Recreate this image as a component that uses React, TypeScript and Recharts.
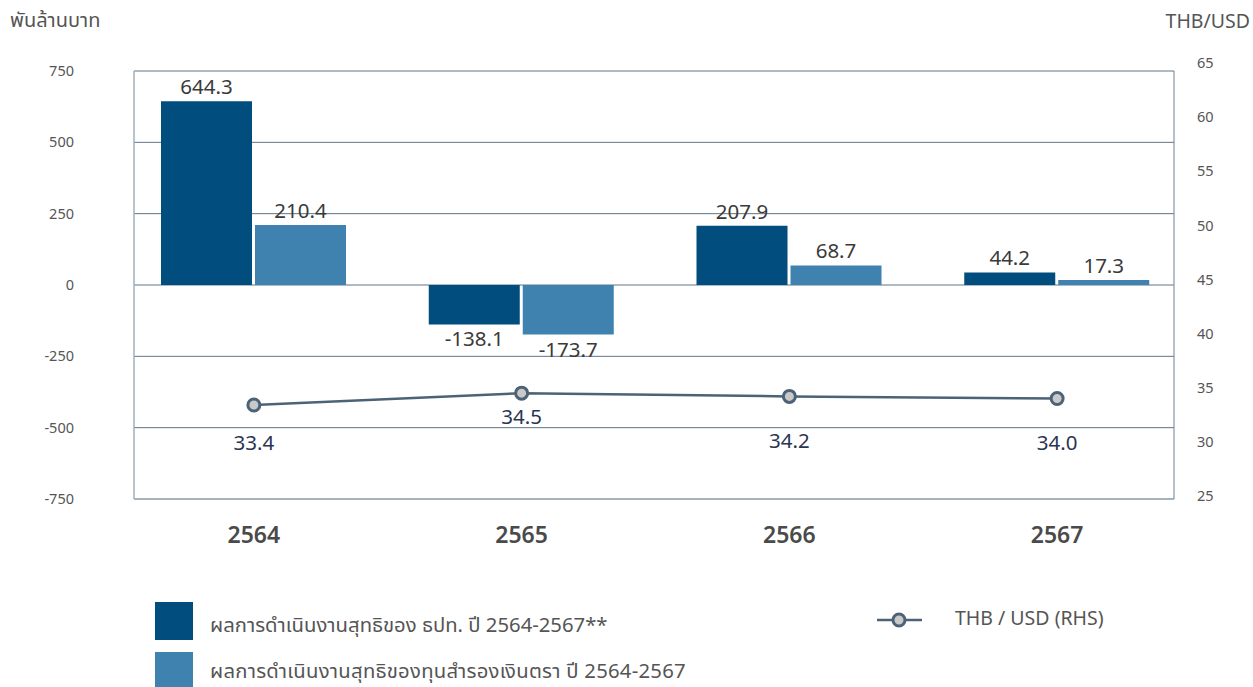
import { ComposedChart, Bar, Line, XAxis, YAxis, CartesianGrid, LabelList } from 'recharts'

// fiscal years (Thai calendar)
const years = ['2564', '2565', '2566', '2567']
// net results, billion baht
const bankResult = [644.3, -138.1, 207.9, 44.2]
const reserveResult = [210.4, -173.7, 68.7, 17.3]
// exchange rate, right axis
const thbUsd = [33.4, 34.5, 34.2, 34.0]

const leftTicks = [-750, -500, -250, 0, 250, 500, 750]
const rightTicks = [25, 30, 35, 40, 45, 50, 55, 60, 65]

const bankName = 'ผลการดำเนินงานสุทธิของ ธปท. ปี 2564-2567**'
const reserveName = 'ผลการดำเนินงานสุทธิของทุนสำรองเงินตรา ปี 2564-2567'
const fxName = 'THB / USD (RHS)'

const DARK = '#014d7d'
const LIGHT = '#3f82b0'
const LINE = '#4b6277'
const FONT = '"Noto Sans Thai", "Noto Sans", "DejaVu Sans", sans-serif'

const data = years.map((year, i) => ({
  year,
  bank: bankResult[i],
  reserve: reserveResult[i],
  fx: thbUsd[i],
}))

function BarValueLabel(props: any) {
  const { x, y, width, height, value } = props
  const top = Math.min(y, y + height)
  const bottom = Math.max(y, y + height)
  const ty = value >= 0 ? top - 7 : bottom + 22
  return (
    <text x={x + width / 2} y={ty} textAnchor="middle" fill="#3a3a3a" fontSize={20.5}>
      {Number(value).toFixed(1)}
    </text>
  )
}

// fx labels sit below the points, not all at the same distance
const fxLabelDy = [45, 31, 52, 51]

function FxLabel(props: any) {
  const { x, y, value, index } = props
  return (
    <text x={x} y={y + fxLabelDy[index]} textAnchor="middle" fill="#2b3551" fontSize={20.5}>
      {Number(value).toFixed(1)}
    </text>
  )
}

export default function App() {
  return (
    <div style={{ position: 'fixed', left: 0, top: 0, width: 1253, height: 687, background: '#fff', fontFamily: FONT, overflow: 'hidden' }}>
      <div style={{ position: 'absolute', left: 10, top: 6, fontSize: 20, color: '#555' }}>พันล้านบาท</div>
      <div style={{ position: 'absolute', right: 3, top: 7, fontSize: 19.5, color: '#555' }}>THB/USD</div>

      <ComposedChart
        width={1253}
        height={560}
        data={data}
        margin={{ top: 71, right: 0, bottom: 0, left: 0 }}
        barSize={91}
        barGap={3}
      >
        <CartesianGrid yAxisId="left" vertical={false} stroke="#5f7488" />
        <XAxis
          dataKey="year"
          padding={{ left: -14, right: -17 }}
          height={61}
          tickSize={0}
          tickMargin={28}
          axisLine={{ stroke: '#a3b1bd', strokeWidth: 1.5 }}
          tick={{ fill: '#4a4a4a', fontSize: 23, fontWeight: 600 }}
        />
        <YAxis
          yAxisId="left"
          orientation="left"
          width={134}
          domain={[-750, 750]}
          ticks={leftTicks}
          interval={0}
          tickSize={0}
          tickMargin={60}
          axisLine={{ stroke: '#a3b1bd', strokeWidth: 1.5 }}
          tick={{ fill: '#555', fontSize: 14.5 }}
        />
        <YAxis
          yAxisId="right"
          orientation="right"
          width={79}
          domain={[24.72, 64.26]}
          allowDataOverflow
          ticks={rightTicks}
          interval={0}
          tickSize={0}
          tickMargin={23}
          axisLine={{ stroke: '#6d8296' }}
          tick={{ fill: '#555', fontSize: 14.5, textAnchor: 'start' }}
        />
        <Bar yAxisId="left" dataKey="bank" name={bankName} fill={DARK} isAnimationActive={false}>
          <LabelList dataKey="bank" content={BarValueLabel} />
        </Bar>
        <Bar yAxisId="left" dataKey="reserve" name={reserveName} fill={LIGHT} isAnimationActive={false}>
          <LabelList dataKey="reserve" content={BarValueLabel} />
        </Bar>
        <Line
          yAxisId="right"
          dataKey="fx"
          name={fxName}
          stroke={LINE}
          strokeWidth={2.5}
          dot={{ r: 6, fill: '#c9c9c9', stroke: LINE, strokeWidth: 3 }}
          isAnimationActive={false}
        >
          <LabelList dataKey="fx" content={FxLabel} />
        </Line>
      </ComposedChart>

      {/* legend */}
      <div style={{ position: 'absolute', left: 155, top: 602, width: 38, height: 38, background: DARK }} />
      <div style={{ position: 'absolute', left: 210, top: 612, fontSize: 20.3, color: '#555', lineHeight: '28px' }}>{bankName}</div>
      <div style={{ position: 'absolute', left: 155, top: 652, width: 38, height: 38, background: LIGHT }} />
      <div style={{ position: 'absolute', left: 210, top: 658, fontSize: 20.3, letterSpacing: 0.25, color: '#555', lineHeight: '28px' }}>{reserveName}</div>

      <svg style={{ position: 'absolute', left: 870, top: 605 }} width={60} height={30}>
        <line x1={7} y1={15} x2={52} y2={15} stroke={LINE} strokeWidth={2.5} />
        <circle cx={29} cy={15} r={6} fill="#c9c9c9" stroke={LINE} strokeWidth={3} />
      </svg>
      <div style={{ position: 'absolute', left: 955, top: 605, fontSize: 19.5, color: '#555', lineHeight: '28px' }}>{fxName}</div>
    </div>
  )
}
